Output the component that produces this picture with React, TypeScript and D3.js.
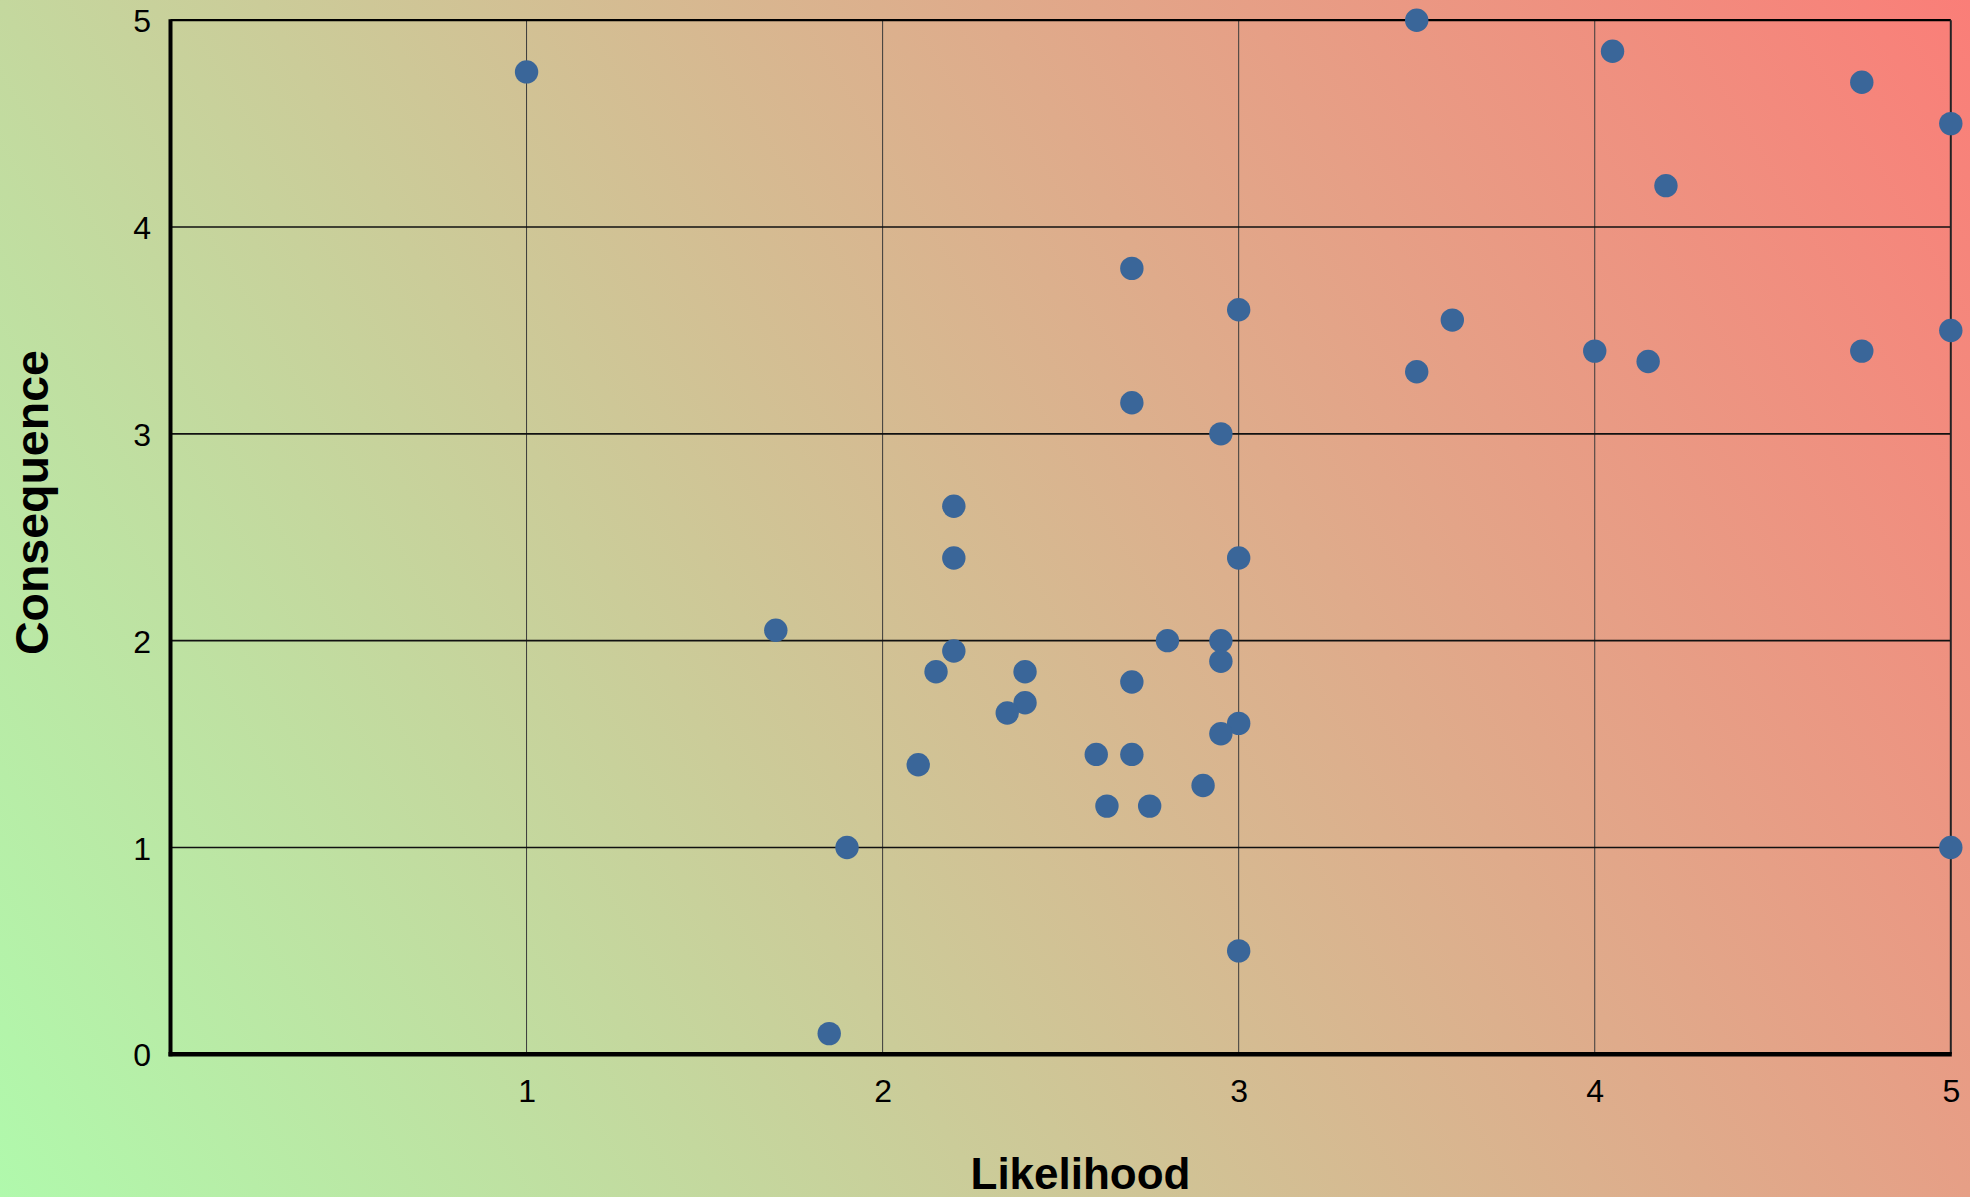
import { useEffect, useRef } from 'react';
import * as d3 from 'd3';

// Risk matrix scatter: likelihood vs consequence
const WIDTH = 1970;
const HEIGHT = 1197;

const likelihood = [
  1.0, 3.5, 4.05, 4.75, 5.0, 4.2, 2.7, 3.0, 3.6, 4.0,
  4.75, 5.0, 3.5, 4.15, 2.7, 2.95, 2.2, 2.2, 3.0, 1.7,
  2.8, 2.95, 2.2, 2.95, 2.15, 2.4, 2.7, 2.4, 2.35, 3.0,
  2.95, 2.6, 2.7, 2.1, 2.9, 2.63, 2.75, 1.9, 5.0, 3.0,
  1.85,
];
const consequence = [
  4.75, 5.0, 4.85, 4.7, 4.5, 4.2, 3.8, 3.6, 3.55, 3.4,
  3.4, 3.5, 3.3, 3.35, 3.15, 3.0, 2.65, 2.4, 2.4, 2.05,
  2.0, 2.0, 1.95, 1.9, 1.85, 1.85, 1.8, 1.7, 1.65, 1.6,
  1.55, 1.45, 1.45, 1.4, 1.3, 1.2, 1.2, 1.0, 1.0, 0.5,
  0.1,
];
const xTicks = [1, 2, 3, 4, 5];
const yTicks = [0, 1, 2, 3, 4, 5];
const xGrid = [1, 2, 3, 4];
const yGrid = [1, 2, 3, 4];

const FONT = '"Liberation Sans", Arial, sans-serif';

export default function App(): JSX.Element {
  const svgRef = useRef<SVGSVGElement>(null);

  useEffect(() => {
    if (!svgRef.current) return;
    const svg = d3.select(svgRef.current);
    svg.selectAll('*').remove();

    const margin = { left: 170.5, right: WIDTH - 1950.8, top: 20.2, bottom: HEIGHT - 1054.3 };

    const x = d3.scaleLinear().domain([0, 5]).range([margin.left, WIDTH - margin.right]);
    const y = d3.scaleLinear().domain([0, 5]).range([HEIGHT - margin.bottom, margin.top]);

    // background gradient (green bottom-left -> salmon top-right)
    const grad = svg.append('defs')
      .append('linearGradient')
      .attr('id', 'bg')
      .attr('gradientUnits', 'userSpaceOnUse')
      .attr('x1', 0).attr('y1', HEIGHT)
      .attr('x2', WIDTH).attr('y2', 0);
    grad.append('stop').attr('offset', '0%').attr('stop-color', '#b0f9ac');
    grad.append('stop').attr('offset', '100%').attr('stop-color', '#fa7e78');

    svg.append('rect')
      .attr('width', WIDTH)
      .attr('height', HEIGHT)
      .attr('fill', 'url(#bg)');

    const [x0, x1] = x.range();
    const [y0, y1] = y.range();

    // vertical grid
    svg.append('g')
      .selectAll('line')
      .data(xGrid)
      .enter()
      .append('line')
      .attr('x1', d => x(d)).attr('x2', d => x(d))
      .attr('y1', y1).attr('y2', y0)
      .attr('stroke', '#3a3a3a')
      .attr('stroke-width', 1);

    // horizontal grid
    svg.append('g')
      .selectAll('line')
      .data(yGrid)
      .enter()
      .append('line')
      .attr('x1', x0).attr('x2', x1)
      .attr('y1', d => y(d)).attr('y2', d => y(d))
      .attr('stroke', '#111')
      .attr('stroke-width', 1.6);

    // frame: top + right thin, left + bottom heavy
    svg.append('line')
      .attr('x1', x0).attr('x2', x1).attr('y1', y1).attr('y2', y1)
      .attr('stroke', '#000').attr('stroke-width', 2.2);
    svg.append('line')
      .attr('x1', x1).attr('x2', x1).attr('y1', y1).attr('y2', y0)
      .attr('stroke', '#222').attr('stroke-width', 2);
    svg.append('line')
      .attr('x1', x0).attr('x2', x0).attr('y1', y1 - 1).attr('y2', y0 + 2)
      .attr('stroke', '#000').attr('stroke-width', 4);
    svg.append('line')
      .attr('x1', x0 - 2).attr('x2', x1 + 1).attr('y1', y0).attr('y2', y0)
      .attr('stroke', '#000').attr('stroke-width', 4.5);

    // Y axis labels
    const yAxis = svg.append('g')
      .attr('transform', `translate(${x0},0)`)
      .call(d3.axisLeft(y).tickValues(yTicks).tickSize(0).tickPadding(19.5).tickFormat(d3.format('d')));
    yAxis.select('.domain').remove();
    yAxis.selectAll('text')
      .attr('dy', '0.36em')
      .style('font-family', FONT)
      .style('font-size', '32px')
      .style('fill', '#000');

    // X axis labels
    const xAxis = svg.append('g')
      .attr('transform', `translate(0,${y0})`)
      .call(d3.axisBottom(x).tickValues(xTicks).tickSize(0).tickPadding(25).tickFormat(d3.format('d')));
    xAxis.select('.domain').remove();
    xAxis.selectAll('text')
      .style('font-family', FONT)
      .style('font-size', '32px')
      .style('fill', '#000');

    // axis titles
    svg.append('text')
      .attr('x', 1080.5)
      .attr('y', 1189.3)
      .attr('text-anchor', 'middle')
      .style('font-family', FONT)
      .style('font-size', '44px')
      .style('font-weight', 'bold')
      .style('fill', '#000')
      .text('Likelihood');

    svg.append('text')
      .attr('transform', `translate(47.5,502.6) rotate(-90)`)
      .attr('text-anchor', 'middle')
      .style('font-family', FONT)
      .style('font-size', '46.5px')
      .style('font-weight', 'bold')
      .style('fill', '#000')
      .text('Consequence');

    // points
    const pts = likelihood.map((l, i) => ({ l, c: consequence[i] }));
    svg.append('g')
      .selectAll('circle')
      .data(pts)
      .enter()
      .append('circle')
      .attr('cx', d => x(d.l))
      .attr('cy', d => y(d.c))
      .attr('r', 11.7)
      .attr('fill', '#3a6699');
  }, []);

  return (
    <svg
      ref={svgRef}
      width={WIDTH}
      height={HEIGHT}
      style={{ position: 'absolute', left: 0, top: 0, display: 'block' }}
    />
  );
}
